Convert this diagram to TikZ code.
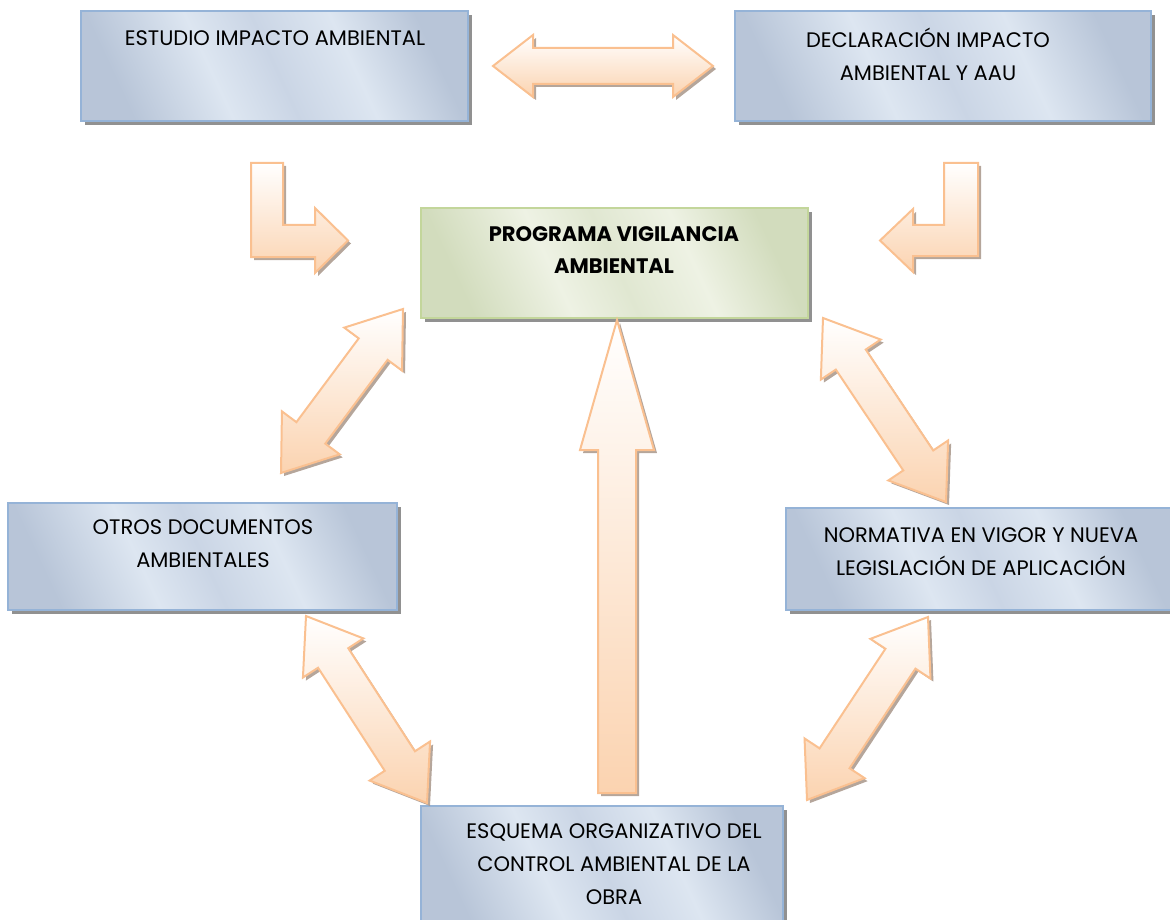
\documentclass[tikz,border=0pt]{standalone}
\usepackage{fontspec}
\setmainfont{Poppins}
\usetikzlibrary{calc,shadows}
\definecolor{bluD}{HTML}{B8C5D8}
\definecolor{bluL}{HTML}{DDE6F1}
\definecolor{bluM}{HTML}{CAD5E5}
\definecolor{bluB}{HTML}{95B3D7}
\definecolor{grnD}{HTML}{D2DCBD}
\definecolor{grnL}{HTML}{EEF2E4}
\definecolor{grnM}{HTML}{E0E7D1}
\definecolor{grnB}{HTML}{C3D69B}
\definecolor{arrB}{HTML}{FAC090}
\definecolor{arrT}{HTML}{FFFFFF}
\definecolor{arrBot}{HTML}{FBD3B0}
\definecolor{arrS}{HTML}{A8968A}
\definecolor{boxS}{HTML}{858585}
\pgfdeclarehorizontalshading{bluesheen}{100bp}{color(0bp)=(bluD); color(25bp)=(bluD); color(40bp)=(bluL); color(50bp)=(bluM); color(62bp)=(bluL); color(75bp)=(bluD); color(100bp)=(bluD)}
\pgfdeclarehorizontalshading{greensheen}{100bp}{color(0bp)=(grnD); color(25bp)=(grnD); color(40bp)=(grnL); color(50bp)=(grnM); color(62bp)=(grnL); color(75bp)=(grnD); color(100bp)=(grnD)}
\tikzset{
  bluebox/.style={draw=bluB, line width=2pt, shading=bluesheen, shading angle=25, inner sep=0pt,
    drop shadow={shadow xshift=4pt, shadow yshift=-4pt, fill=boxS, opacity=0.9}},
  greenbox/.style={draw=grnB, line width=2pt, shading=greensheen, shading angle=25, inner sep=0pt,
    drop shadow={shadow xshift=4pt, shadow yshift=-4pt, fill=boxS, opacity=0.9}},
  lbl/.style={align=center, inner sep=0pt, text=black, font=\fontsize{21}{33}\selectfont},
  blbl/.style={align=center, inner sep=0pt, text=black, font=\bfseries\fontsize{21}{32}\selectfont},
  arr/.style={draw=arrB, line width=2pt, line join=miter, top color=arrT, bottom color=arrBot,
    drop shadow={shadow xshift=3pt, shadow yshift=-3pt, fill=arrS, opacity=0.85}}
}
% double arrow between two named coordinates: #1,#2 tips, #3 head length, #4 head half width, #5 shaft half width
\newcommand\dblarr[5]{%
  \draw[arr] (#1) -- ($(#1)!#3!(#2)!#4!90:(#2)$) -- ($(#1)!#3!(#2)!#5!90:(#2)$)
    -- ($(#2)!#3!(#1)!#5!-90:(#1)$) -- ($(#2)!#3!(#1)!#4!-90:(#1)$) -- (#2)
    -- ($(#2)!#3!(#1)!#4!90:(#1)$) -- ($(#2)!#3!(#1)!#5!90:(#1)$)
    -- ($(#1)!#3!(#2)!#5!-90:(#2)$) -- ($(#1)!#3!(#2)!#4!-90:(#2)$) -- cycle;}
\begin{document}
\begin{tikzpicture}[x=1pt,y=-1pt]
\useasboundingbox (0,0) rectangle (1170,920);
% boxes
\node[bluebox, minimum width=387pt, minimum height=110pt] (es) at (274.5,66) {};
\node[bluebox, minimum width=416pt, minimum height=110pt] (de) at (943,66) {};
\node[greenbox, minimum width=387pt, minimum height=110pt] (pv) at (614.5,263) {};
\node[bluebox, minimum width=389pt, minimum height=107pt] (ot) at (202.5,556.5) {};
\node[bluebox, minimum width=388pt, minimum height=102pt] (no) at (980,559) {};
\node[bluebox, minimum width=362pt, minimum height=120pt] (esq) at (602,866) {};
% labels
\node[lbl] (es-t) at (275,38) {ESTUDIO IMPACTO AMBIENTAL};
\node[lbl] (de-t) at (928,54) {DECLARACIÓN IMPACTO\\AMBIENTAL Y AAU};
\node[blbl] (pv-t) at (614,250) {PROGRAMA VIGILANCIA\\AMBIENTAL};
\node[lbl] (ot-t) at (203,544) {OTROS DOCUMENTOS\\AMBIENTALES};
\node[lbl] (no-t) at (981,552) {NORMATIVA EN VIGOR Y NUEVA\\LEGISLACIÓN DE APLICACIÓN};
\node[lbl] (esq-t) at (614,864) {ESQUEMA ORGANIZATIVO DEL\\CONTROL AMBIENTAL DE LA\\OBRA};
% arrow end points
\coordinate (h1) at (493,66);
\coordinate (h2) at (713,66);
\coordinate (d1a) at (403,309);
\coordinate (d1b) at (281,473);
\coordinate (d2a) at (823,318);
\coordinate (d2b) at (946,502);
\coordinate (d3a) at (306,616);
\coordinate (d3b) at (427,803);
\coordinate (d4a) at (928,617);
\coordinate (d4b) at (807,800);
\coordinate (vtip) at (617,320);
\coordinate (vtail) at (617,793);
% arrows
\dblarr{h1}{h2}{40pt}{31pt}{18pt}
\dblarr{d1a}{d1b}{50pt}{36pt}{18pt}
\dblarr{d2a}{d2b}{50pt}{36pt}{18pt}
\dblarr{d3a}{d3b}{50pt}{36pt}{18pt}
\dblarr{d4a}{d4b}{50pt}{36pt}{18pt}
\draw[arr] (vtip) -- ($(vtip)!130pt!(vtail)!37pt!90:(vtail)$) -- ($(vtip)!130pt!(vtail)!19pt!90:(vtail)$)
  -- ($(vtail)!19pt!-90:(vtip)$) -- ($(vtail)!19pt!90:(vtip)$)
  -- ($(vtip)!130pt!(vtail)!19pt!-90:(vtail)$) -- ($(vtip)!130pt!(vtail)!37pt!-90:(vtail)$) -- cycle;
% bent arrows
\draw[arr] (251,163) -- (283,163) -- (283,225) -- (315,225) -- (315,208) -- (348,240.5)
  -- (315,273) -- (315,257) -- (251,257) -- cycle;
\draw[arr] (978,163) -- (944,163) -- (944,225) -- (913,225) -- (913,209) -- (880,240.5)
  -- (913,272) -- (913,256) -- (978,256) -- cycle;
\end{tikzpicture}
\end{document}
